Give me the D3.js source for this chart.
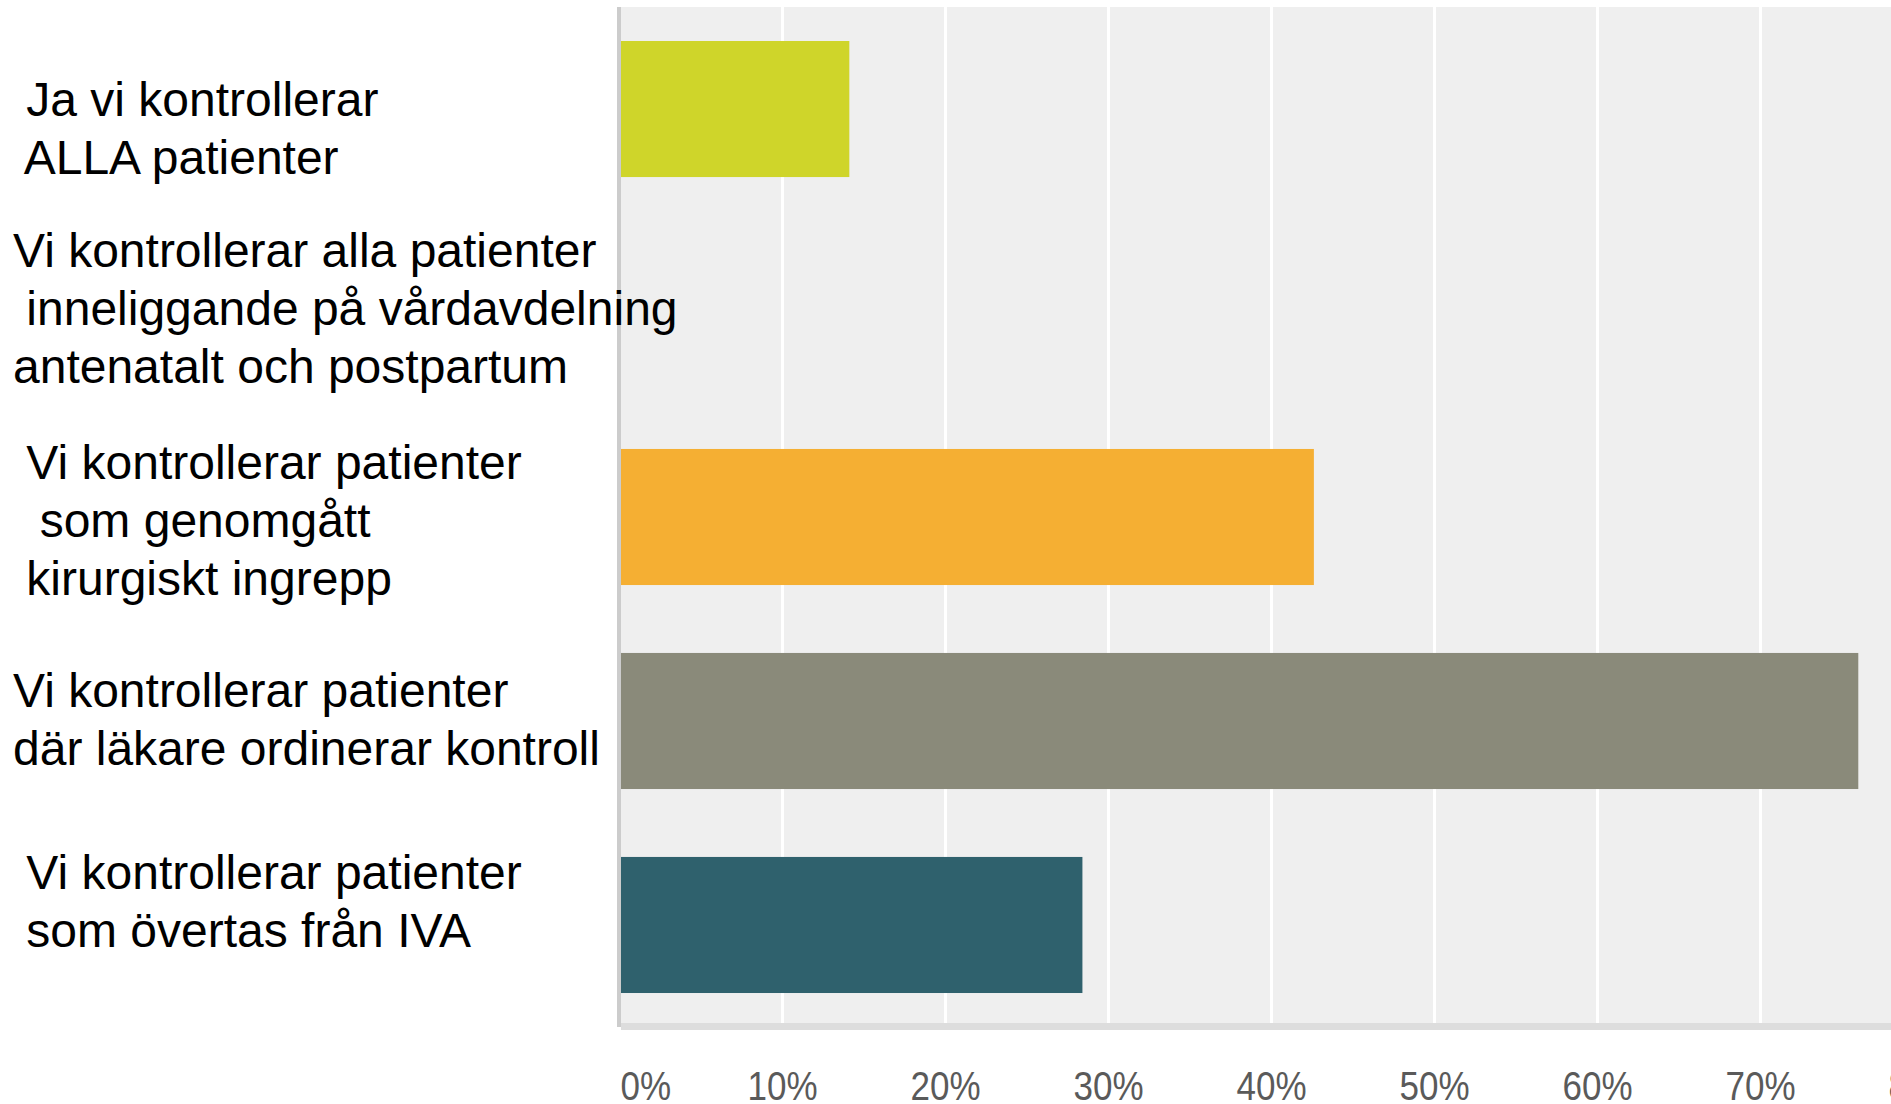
<!DOCTYPE html>
<html>
<head>
<meta charset="utf-8">
<title>Kontroll av patienter</title>
<style>
  html, body { margin: 0; padding: 0; background: #ffffff; }
  svg { display: block; }
  .label { font-family: "Liberation Sans", Arial, sans-serif; font-size: 48px; fill: #000; white-space: pre; }
  .tick-label { font-family: "Liberation Sans", Arial, sans-serif; font-size: 40px; fill: #5a5a5a; }
</style>
</head>
<body>
<div id="chart"></div>
<script src="https://cdn.jsdelivr.net/npm/d3@7"></script>
<script>
// Answer categories (line breaks and leading spaces as in the original)
var categories = [
    [" Ja vi kontrollerar", " ALLA patienter"],
    ["Vi kontrollerar alla patienter", " inneliggande på vårdavdelning", "antenatalt och postpartum"],
    [" Vi kontrollerar patienter", "  som genomgått", " kirurgiskt ingrepp"],
    ["Vi kontrollerar patienter", "där läkare ordinerar kontroll"],
    [" Vi kontrollerar patienter", " som övertas från IVA"]
];

// Share of responses, percent
var values = [14.1, 0, 42.6, 76.0, 28.4];

var colors = ["#cfd52a", "#cfd52a", "#f5af33", "#8a8a7a", "#2f616d"];

var tickValues = [0, 10, 20, 30, 40, 50, 60, 70, 80];

// Layout
var width = 1891,
    height = 1104,
    plotLeft = 619.5,
    plotTop = 7,
    plotBottom = 1023,
    lineHeight = 58,
    capHeight = 34,
    labelNudge = [19, -5, 3, -2, -24]; // small offsets the original labels have

var x = d3.scaleLinear()
    .domain([0, 80])
    .range([plotLeft, plotLeft + 8 * 163]);

var y = d3.scaleBand()
    .domain(d3.range(values.length))
    .range([plotTop + 4, plotBottom])
    .paddingInner(0.333)
    .paddingOuter(0.147);

var svg = d3.select('#chart').append('svg')
    .attr('width', width)
    .attr('height', height);

// plot background
svg.append('rect')
    .attr('x', plotLeft + 1.5)
    .attr('y', plotTop)
    .attr('width', width - plotLeft)
    .attr('height', plotBottom - plotTop)
    .style('fill', '#efefef');

// vertical gridlines
svg.selectAll('.grid')
    .data(tickValues.filter(d => d > 0))
  .enter().append('line')
    .attr('class', 'grid')
    .attr('x1', d => x(d))
    .attr('x2', d => x(d))
    .attr('y1', plotTop)
    .attr('y2', plotBottom)
    .style('stroke', '#ffffff')
    .style('stroke-width', 3);

// bars
svg.selectAll('.bar')
    .data(values)
  .enter().append('rect')
    .attr('class', 'bar')
    .attr('x', x(0))
    .attr('y', (d, i) => y(i))
    .attr('width', d => x(d) - x(0))
    .attr('height', y.bandwidth())
    .style('fill', (d, i) => colors[i]);

// bottom shadow and left axis line
svg.append('rect')
    .attr('x', plotLeft + 1.5)
    .attr('y', plotBottom)
    .attr('width', width - plotLeft)
    .attr('height', 7)
    .style('fill', '#dddddd');
svg.append('rect')
    .attr('x', plotLeft - 2.5)
    .attr('y', plotTop)
    .attr('width', 4)
    .attr('height', plotBottom + 4 - plotTop)
    .style('fill', '#cccccc');

// category labels
var labels = svg.selectAll('.label')
    .data(categories)
  .enter().append('text')
    .attr('class', 'label')
    .attr('x', 13);

labels.each(function(lines, i) {
    var mid = y(i) + y.bandwidth() / 2 + labelNudge[i];
    var first = mid - (lines.length - 1) * lineHeight / 2 + capHeight / 2;
    d3.select(this).selectAll('tspan')
        .data(lines)
      .enter().append('tspan')
        .attr('x', 13)
        .attr('y', (d, j) => first + j * lineHeight)
        .text(d => d);
});

// x axis tick labels (condensed like the original)
var ticks = svg.selectAll('.tick-label')
    .data(tickValues)
  .enter().append('text')
    .attr('class', 'tick-label')
    .attr('transform', d => 'translate(' + (d === 0 ? x(d) + 1 : x(d)) + ',1100) scale(0.875,1)')
    .attr('text-anchor', d => d === 0 ? 'start' : 'middle')
    .text(d => d + '%');
</script>
</body>
</html>
